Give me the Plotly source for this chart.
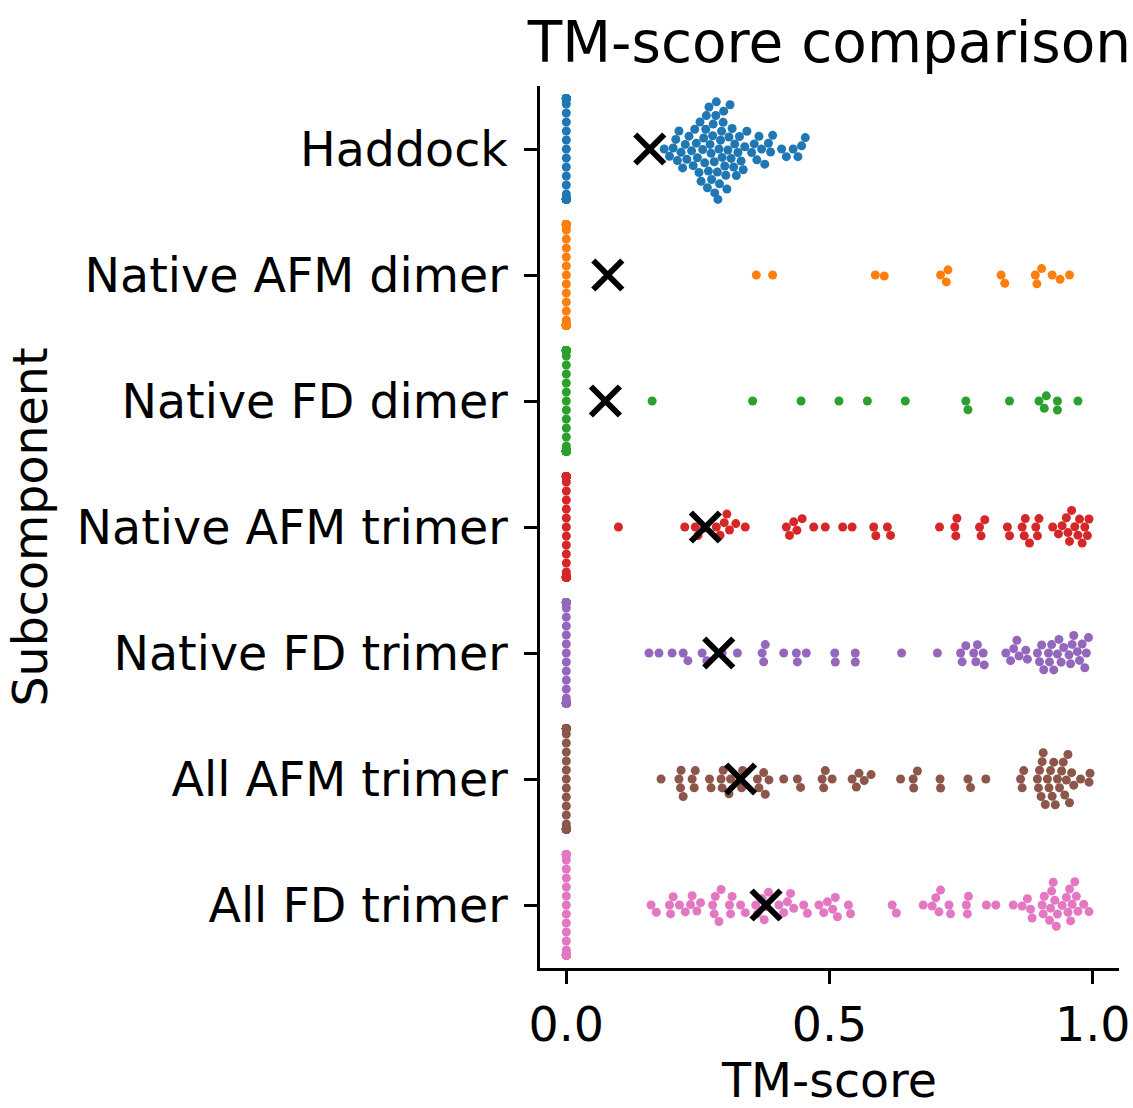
import numpy as np
import plotly.graph_objects as go

categories = ["Haddock", "Native AFM dimer", "Native FD dimer", "Native AFM trimer",
              "Native FD trimer", "All AFM trimer", "All FD trimer"]
colors = ["#1f77b4", "#ff7f0e", "#2ca02c", "#d62728", "#9467bd", "#8c564b", "#e377c2"]

# number of models scoring exactly 0.0 in each subcomponent
zero_counts = [68, 128, 128, 83, 84, 66, 47]

haddock = [0.186, 0.196, 0.203, 0.208, 0.211, 0.214, 0.218, 0.221, 0.226, 0.229,
           0.233, 0.238, 0.241, 0.244, 0.247, 0.249, 0.252, 0.254, 0.256, 0.259,
           0.261, 0.263, 0.265, 0.266, 0.268, 0.270, 0.271, 0.273, 0.275, 0.276,
           0.278, 0.279, 0.281, 0.282, 0.284, 0.285, 0.287, 0.288, 0.290, 0.291,
           0.293, 0.295, 0.296, 0.298, 0.299, 0.301, 0.303, 0.305, 0.307, 0.309,
           0.311, 0.313, 0.315, 0.318, 0.320, 0.323, 0.326, 0.329, 0.332, 0.336,
           0.339, 0.343, 0.352, 0.357, 0.362, 0.366, 0.371, 0.377, 0.384, 0.388,
           0.392, 0.409, 0.418, 0.431, 0.440, 0.447, 0.454]
native_afm_dimer = [0.361, 0.392, 0.587, 0.604, 0.711, 0.722, 0.725, 0.826, 0.833,
                    0.891, 0.894, 0.903, 0.923, 0.938, 0.956]
native_fd_dimer = [0.163, 0.354, 0.446, 0.518, 0.572, 0.644, 0.759, 0.763, 0.842,
                   0.898, 0.908, 0.912, 0.933, 0.933, 0.972]
native_afm_trimer = [0.099,
                     0.225, 0.245, 0.250, 0.262, 0.285, 0.292, 0.300, 0.305, 0.310, 0.322, 0.340,
                     0.418, 0.424, 0.432, 0.438, 0.448, 0.470, 0.492, 0.525, 0.543,
                     0.584, 0.588, 0.610, 0.616,
                     0.709, 0.738, 0.740, 0.742, 0.785, 0.788, 0.795,
                     0.838, 0.842, 0.866, 0.870, 0.872, 0.880, 0.892, 0.895, 0.898,
                     0.924, 0.935, 0.942, 0.950, 0.953, 0.956, 0.960, 0.966, 0.972,
                     0.975, 0.980, 0.985, 0.990, 0.993]
native_fd_trimer = [0.157, 0.176, 0.201, 0.222, 0.231, 0.258, 0.267, 0.296, 0.325, 0.372,
                    0.375, 0.378, 0.413, 0.437, 0.439, 0.456, 0.510, 0.511, 0.549, 0.549,
                    0.637, 0.705, 0.749, 0.752, 0.759, 0.774, 0.778, 0.781, 0.792, 0.794,
                    0.835, 0.844, 0.850, 0.856, 0.860, 0.873, 0.876, 0.895, 0.899, 0.903,
                    0.907, 0.916, 0.918, 0.922, 0.926, 0.933, 0.936, 0.940, 0.945, 0.955,
                    0.958, 0.961, 0.964, 0.971, 0.975, 0.980, 0.985, 0.988, 0.992]
all_afm_trimer = [0.180, 0.214, 0.217, 0.218, 0.222, 0.239, 0.243, 0.245, 0.272, 0.275,
                  0.294, 0.296, 0.298, 0.309, 0.312, 0.330, 0.333, 0.335, 0.363, 0.366,
                  0.375, 0.378, 0.385, 0.413, 0.439, 0.445, 0.486, 0.489, 0.492, 0.505,
                  0.543, 0.551, 0.556, 0.566, 0.579,
                  0.635, 0.659, 0.660, 0.667, 0.710, 0.711, 0.763, 0.768, 0.797, 0.863,
                  0.866, 0.869,
                  0.895, 0.897, 0.899, 0.902, 0.904, 0.906, 0.910, 0.914, 0.917, 0.920,
                  0.923, 0.926, 0.929, 0.933, 0.937, 0.941, 0.944, 0.947, 0.950, 0.953,
                  0.956, 0.960, 0.964, 0.977, 0.993, 0.995]
all_fd_trimer = [0.161, 0.171, 0.196, 0.198, 0.203, 0.215, 0.226, 0.236, 0.239, 0.248,
                 0.255, 0.278, 0.281, 0.283, 0.290, 0.294, 0.310, 0.312, 0.315, 0.331,
                 0.340, 0.360, 0.363, 0.372, 0.376, 0.380, 0.384, 0.404, 0.413, 0.420,
                 0.426, 0.432, 0.451, 0.458, 0.480, 0.489, 0.496, 0.506, 0.511, 0.515,
                 0.536, 0.540,
                 0.619, 0.627, 0.678, 0.695, 0.702, 0.708, 0.711, 0.727, 0.730, 0.760,
                 0.762, 0.764, 0.798, 0.816, 0.849, 0.866, 0.876, 0.882, 0.885,
                 0.904, 0.906, 0.908, 0.918, 0.920, 0.922, 0.925, 0.928, 0.931, 0.933,
                 0.942, 0.950, 0.953, 0.956, 0.958, 0.961, 0.966, 0.969, 0.972, 0.983,
                 0.993]
nonzero_scores = [haddock, native_afm_dimer, native_fd_dimer, native_afm_trimer,
                  native_fd_trimer, all_afm_trimer, all_fd_trimer]

x_ticks = [0.0, 0.5, 1.0]
x_tick_text = ["0.0", "0.5", "1.0"]

# ---- layout geometry (pixels) ----
W, H = 1133, 1108
ML, MR, MT, MB = 540, 14, 86, 140
plot_w = W - ML - MR
plot_h = H - MT - MB
x_range = [-0.05, 1.05]
px_per_x = plot_w / (x_range[1] - x_range[0])
px_per_cat = plot_h / len(categories)
DOT = 9.0          # marker diameter in px
HALF_WIDTH = 0.4   # swarm half-width in category units


def beeswarm(values):
    """Seaborn-like beeswarm: returns offsets (category units)."""
    xs = np.asarray(values, float) * px_per_x
    order = np.argsort(xs, kind="stable")
    placed_x, placed_y = [], []
    offsets = np.zeros(len(xs))
    d2 = DOT * DOT
    for i in order:
        x = xs[i]
        px = np.array(placed_x)
        py = np.array(placed_y)
        if len(px):
            m = np.abs(px - x) < DOT
            nx, ny = px[m], py[m]
        else:
            nx, ny = np.array([]), np.array([])
        cands = [0.0]
        for a, b in zip(nx, ny):
            dy = np.sqrt(max(d2 - (a - x) ** 2, 0.0))
            cands += [b + dy, b - dy]
        cands = np.array(cands)
        cands = cands[np.argsort(np.abs(cands), kind="stable")]
        chosen = cands[0]
        for c in cands:
            if len(nx) == 0 or np.all((nx - x) ** 2 + (ny - c) ** 2 >= d2 - 1e-6):
                chosen = c
                break
        offsets[i] = chosen
        placed_x.append(x)
        placed_y.append(chosen)
    off = offsets / px_per_cat
    return np.clip(off, -HALF_WIDTH, HALF_WIDTH)


fig = go.Figure()
means = []
for k, (cat, col) in enumerate(zip(categories, colors)):
    vals = [0.0] * zero_counts[k] + list(nonzero_scores[k])
    off = beeswarm(vals)
    fig.add_trace(go.Scatter(
        x=vals, y=k + off, mode="markers",
        marker=dict(color=col, size=DOT, line=dict(width=0)),
        showlegend=False, hoverinfo="x", name=cat))
    means.append(float(np.mean(vals)))

fig.add_trace(go.Scatter(
    x=means, y=list(range(len(categories))), mode="markers",
    marker=dict(symbol="x-thin", size=29, color="black",
                line=dict(color="black", width=6)),
    showlegend=False, name="mean"))

font_fam = "DejaVu Sans"
fig.update_layout(
    width=W, height=H,
    margin=dict(l=ML, r=MR, t=MT, b=MB, autoexpand=False),
    paper_bgcolor="white", plot_bgcolor="white",
    font=dict(family=font_fam, size=47.5, color="black"),
    title=dict(text="TM-score comparison", x=0.5, xref="paper", xanchor="center",
               y=1 - 42 / H, yref="container", yanchor="middle",
               font=dict(family=font_fam, size=56.5, color="black")),
    xaxis=dict(range=x_range, tickvals=x_ticks, ticktext=x_tick_text,
               showgrid=False, zeroline=False, showline=True, linecolor="black",
               linewidth=2.5, ticks="outside", ticklen=13, tickwidth=2.5,
               tickcolor="black", ticklabelstandoff=0, automargin=False,
               title=dict(text="TM-score", standoff=24,
                          font=dict(family=font_fam, size=47.5))),
    yaxis=dict(range=[len(categories) - 0.5, -0.5], tickvals=list(range(len(categories))),
               ticktext=categories, showgrid=False, zeroline=False, showline=True,
               linecolor="black", linewidth=2.5, ticks="outside", ticklen=13,
               tickwidth=2.5, tickcolor="black", ticklabelstandoff=7, automargin=False,
               title=dict(text="Subcomponent", standoff=14,
                          font=dict(family=font_fam, size=47.5))),
)

fig.write_html("out.html")
